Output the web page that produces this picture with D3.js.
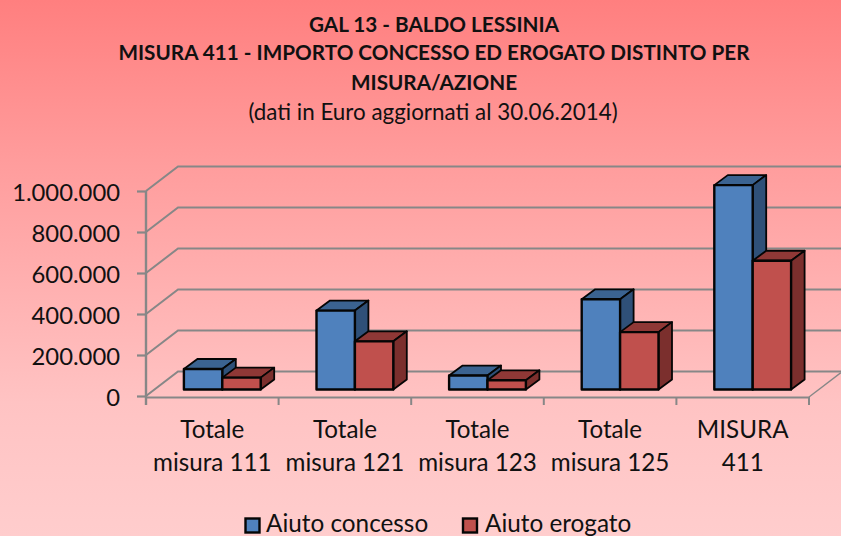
<!DOCTYPE html>
<html><head><meta charset="utf-8">
<script src="https://cdn.jsdelivr.net/npm/d3@7/dist/d3.min.js"></script>
<style>html,body{margin:0;padding:0;background:#ffcccc}svg{display:block}text{font-family:Lato,"Open Sans",sans-serif;fill:#111}</style>
</head><body>
<svg id="c" width="841" height="536"></svg>
<script>
const titleLines = ["GAL 13 - BALDO LESSINIA","MISURA 411 - IMPORTO CONCESSO ED EROGATO DISTINTO PER","MISURA/AZIONE"];
const subtitle = "(dati in Euro aggiornati al 30.06.2014)";
const categories = [["Totale","misura 111"],["Totale","misura 121"],["Totale","misura 123"],["Totale","misura 125"],["MISURA","411"]];
const seriesNames = ["Aiuto concesso","Aiuto erogato"];
const concesso = [100000,385000,68000,440000,997000];
const erogato = [58000,235000,45000,280000,628000];
const yTicks = [0,200000,400000,600000,800000,1000000];

const W=841,H=536;
const svg=d3.select("#c");
const defs=svg.append("defs");
const g=defs.append("linearGradient").attr("id","bg").attr("x1",0).attr("y1",0).attr("x2",0).attr("y2",1);
g.append("stop").attr("offset","0").attr("stop-color","#ff7f7f");
g.append("stop").attr("offset","0.3").attr("stop-color","#ff9c9c");
g.append("stop").attr("offset","0.75").attr("stop-color","#ffc3c3");
g.append("stop").attr("offset","1").attr("stop-color","#ffcdcd");
svg.append("rect").attr("width",W).attr("height",H).attr("fill","url(#bg)");

// titles
titleLines.forEach((t,i)=>svg.append("text").attr("x",434).attr("y",[32,60,90][i]).attr("text-anchor","middle")
  .attr("font-size",20.7).attr("font-weight",700).text(t));
svg.append("text").attr("x",433).attr("y",120).attr("text-anchor","middle").attr("font-size",22.4).text(subtitle);

const x=d3.scaleBand().domain(categories.map((d,i)=>i)).range([146,809]).padding(0);
const y=d3.scaleLinear().domain([0,1000000]).range([396,191]);
const wallDX=32,wallDY=-24.5;
const grey="#878787";

// gridlines on wall + floor
const grid=svg.append("g").attr("fill","none").attr("stroke",grey).attr("stroke-width",2);
grid.selectAll("path.g").data(yTicks).join("path").attr("class","g")
  .attr("d",d=>`M146,${y(d)}L${146+wallDX},${y(d)+wallDY}L${W},${y(d)+wallDY}`);
grid.append("path").attr("d",`M809,397L${809+wallDX},${397+wallDY}`).attr("stroke-width",1.4);

// axes
const fmt=d3.formatLocale({decimal:",",thousands:".",grouping:[3],currency:["€",""]}).format(",d");
const ya=svg.append("g").attr("transform","translate(146,0)")
  .call(d3.axisLeft(y).tickValues(yTicks).tickFormat(fmt).tickSize(9).tickPadding(17));
ya.select(".domain").remove();
ya.append("line").attr("x1",0).attr("x2",0).attr("y1",y(1000000)).attr("y2",405).attr("stroke",grey).attr("stroke-width",2.4);
ya.selectAll(".tick line").attr("stroke",grey).attr("stroke-width",2.2);
ya.selectAll(".tick text").attr("font-size",23.8).attr("dy",null).attr("y",9).style("font-family","Lato,sans-serif").attr("fill","#111");

const xa=svg.append("g").attr("transform","translate(0,397)").call(d3.axisBottom(x).tickSize(0).tickFormat(""));
xa.selectAll(".domain").attr("stroke",grey).attr("stroke-width",2);
const edges=categories.map((d,i)=>x(i)).concat([x.range()[1]]);
xa.selectAll("line.e").data(edges).join("line").attr("class","e").attr("x1",d=>d).attr("x2",d=>d).attr("y1",0).attr("y2",8)
  .attr("stroke",grey).attr("stroke-width",2);
xa.selectAll(".tick").each(function(d,i){
  const s=d3.select(this).select("text").attr("y",null).attr("dy",null).attr("font-size",24.2).attr("fill","#111").style("font-family","Lato,sans-serif");
  s.text(null);
  categories[i].forEach((l,k)=>s.append("tspan").attr("x",0).attr("y",k?74:41).text(l));
});

// 3D bars
const barW=38.4, barDX=13.5, barDY=-10, offX=10, baseShift=-6.5;
const faces=[{f:"#4f81bd",s:"#2f5078",t:"#3b6391"},{f:"#c0504d",s:"#7b2f2d",t:"#8f3836"}];
const bars=svg.append("g").attr("stroke","#050505").attr("stroke-linejoin","round");
categories.forEach((c,i)=>{
  [concesso[i],erogato[i]].forEach((v,k)=>{
    const x0=x(i)+x.bandwidth()/2-barW+offX+k*barW, x1=x0+barW;
    const b=y(0)+baseShift, t=y(v)+baseShift;
    const col=faces[k];
    bars.append("path").attr("fill",col.t).attr("stroke-width",1.8)
      .attr("d",`M${x0},${t}L${x0+barDX},${t+barDY}L${x1+barDX},${t+barDY}L${x1},${t}Z`);
    bars.append("path").attr("fill",col.s).attr("stroke-width",1.8)
      .attr("d",`M${x1},${t}L${x1+barDX},${t+barDY}L${x1+barDX},${b+barDY}L${x1},${b}Z`);
    bars.append("rect").attr("x",x0).attr("y",t).attr("width",barW).attr("height",b-t)
      .attr("fill",col.f).attr("stroke-width",2.4);
  });
});

// legend
const lx=[245.5,463], ltx=[266,485];
seriesNames.forEach((n,i)=>{
  svg.append("rect").attr("x",lx[i]).attr("y",518.5).attr("width",14).attr("height",14)
    .attr("fill",faces[i].f).attr("stroke","#050505").attr("stroke-width",2.4);
  svg.append("text").attr("x",ltx[i]).attr("y",532).attr("font-size",24.3).text(n);
});
</script>
</body></html>
